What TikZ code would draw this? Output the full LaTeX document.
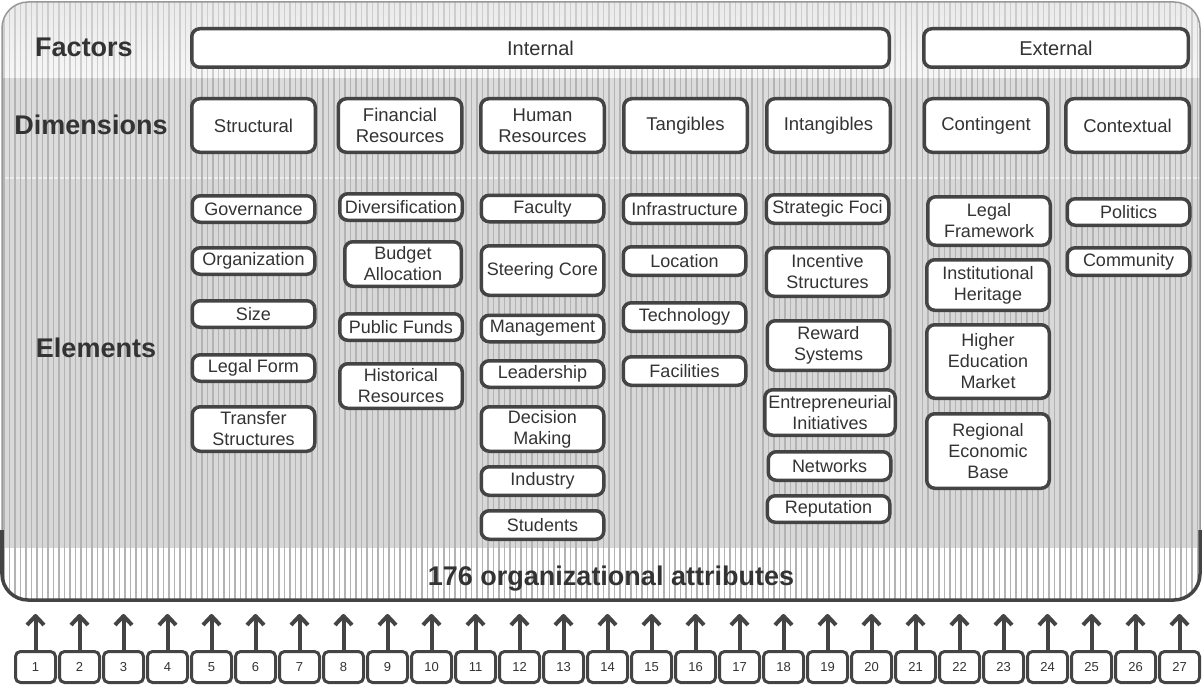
\documentclass[tikz,border=0pt]{standalone}
\usepackage{fontspec}
\setmainfont{Liberation Sans}
\usetikzlibrary{arrows.meta, positioning}

\definecolor{linegray}{HTML}{444444}
\definecolor{textgray}{HTML}{333333}
\definecolor{topgray}{HTML}{EAEAEA}
\definecolor{dimgray}{HTML}{DCDCDC}
\definecolor{bandgray}{HTML}{D8D8D8}
\definecolor{stripegray}{HTML}{B3B3B3}
\definecolor{topstripe}{HTML}{CDCDCD}

\begin{document}
\begin{tikzpicture}[x=1pt, y=-1pt,
    every node/.style={text=textgray},
    box/.style={draw=linegray, line width=3.5pt, rounded corners=8pt, fill=white, align=center, inner sep=2pt},
    elem/.style={box, minimum width=122.5pt, minimum height=26.5pt, font=\fontsize{18}{21}\selectfont},
    dimbox/.style={box, minimum width=123.5pt, minimum height=53.5pt, font=\fontsize{18.5}{21.5}\selectfont},
    factbox/.style={box, minimum height=38.5pt, font=\fontsize{20}{24}\selectfont},
    numbox/.style={draw=linegray, line width=3pt, rounded corners=5pt, fill=white, minimum width=40pt, minimum height=31pt, inner sep=0pt, font=\fontsize{13}{15}\selectfont},
    rowtitle/.style={font=\fontsize{27}{30}\selectfont\bfseries}]
    \useasboundingbox (0,0) rectangle (1203,685);

    % striped background
    \begin{scope}
        \clip[rounded corners=26pt] (2,2) rectangle (1200,600);
        \shade[top color=topgray, bottom color=white!60!topgray] (0,0) rectangle (1203,78);
        \fill[dimgray] (0,78) rectangle (1203,178);
        \fill[bandgray] (0,178) rectangle (1203,548);
        \fill[white] (0,548) rectangle (1203,600);
        \draw[white!55!bandgray, line width=2pt] (0,178) -- (1203,178);
        \foreach \x in {4,9.5,...,1200} {
            \draw[topstripe, line width=1.8pt] (\x,0) -- (\x,78);
            \draw[stripegray, line width=1.8pt] (\x,78) -- (\x,600);
        }
    \end{scope}
    \draw[linegray!55, line width=1.5pt, rounded corners=26pt] (2,2) rectangle (1200,600);
    \draw[linegray, line width=3.5pt, rounded corners=26pt] (2,530) -- (2,600) -- (1200,600) -- (1200,530);

    % row titles
    \node[rowtitle] (factors) at (84,47) {Factors};
    \node[rowtitle] (dimensions) at (91,125) {Dimensions};
    \node[rowtitle] (elements) at (96,348) {Elements};
    \node[rowtitle] (attributes) at (611,579) {176 organizational attributes};

    % factors
    \node[factbox, minimum width=697.5pt] (internal) at (540.5,48) {Internal};
    \node[factbox, minimum width=264.5pt] (external) at (1056,48) {External};

    % dimensions
    \node[dimbox] (structural) at (253.5,125.5) {Structural};
    \node[dimbox] (financial) at (400,125.5) {Financial\\Resources};
    \node[dimbox] (human) at (542.5,125.5) {Human\\Resources};
    \node[dimbox] (tangibles) at (685.5,125.5) {Tangibles};
    \node[dimbox] (intangibles) at (828.5,125.5) {Intangibles};
    \node[dimbox] (contingent) at (986,125.5) {Contingent};
    \node[dimbox] (contextual) at (1127.5,125.5) {Contextual};

    % elements: structural
    \node[elem] (governance) at (253.5,209) {Governance};
    \node[elem] (organization) at (253.5,261) {Organization};
    \node[elem] (size) at (253.5,314) {Size};
    \node[elem] (legalform) at (253.5,368) {Legal Form};
    \node[elem, minimum height=44.5pt] (transfer) at (253.5,429) {Transfer\\Structures};

    % elements: financial resources
    \node[elem] (diversification) at (401,207) {Diversification};
    \node[elem, minimum width=116.5pt, minimum height=44.5pt] (budget) at (403,264) {Budget\\Allocation};
    \node[elem] (publicfunds) at (401,327) {Public Funds};
    \node[elem, minimum height=44.5pt] (historical) at (401,386) {Historical\\Resources};

    % elements: human resources
    \node[elem] (faculty) at (542.5,208.5) {Faculty};
    \node[elem, minimum height=49.5pt] (steering) at (542.5,270.5) {Steering Core};
    \node[elem] (management) at (542.5,328.5) {Management};
    \node[elem] (leadership) at (542.5,374) {Leadership};
    \node[elem, minimum height=44.5pt] (decision) at (542.5,429) {Decision\\Making};
    \node[elem, minimum height=28.5pt] (industry) at (542.5,481) {Industry};
    \node[elem, minimum height=28.5pt] (students) at (542.5,525) {Students};

    % elements: tangibles
    \node[elem, minimum height=28.5pt] (infrastructure) at (684.5,209) {Infrastructure};
    \node[elem, minimum height=28.5pt] (location) at (684.5,261) {Location};
    \node[elem, minimum height=28.5pt] (technology) at (684.5,317) {Technology};
    \node[elem, minimum height=28.5pt] (facilities) at (684.5,371) {Facilities};

    % elements: intangibles
    \node[elem, minimum height=28.5pt] (strategic) at (827.5,209) {Strategic Foci};
    \node[elem, minimum height=48.5pt] (incentive) at (827.5,272) {Incentive\\Structures};
    \node[elem, minimum height=49.5pt] (reward) at (828.5,345.5) {Reward\\Systems};
    \node[elem, minimum width=130.5pt, minimum height=45.5pt] (entrepreneurial) at (830,412.5) {Entrepreneurial\\Initiatives};
    \node[elem, minimum height=28.5pt] (networks) at (829.5,466) {Networks};
    \node[elem] (reputation) at (828.5,509) {Reputation};

    % elements: contingent
    \node[elem, minimum height=48.5pt] (legalframework) at (989,221) {Legal\\Framework};
    \node[elem, minimum height=50.5pt] (heritage) at (988,285) {Institutional\\Heritage};
    \node[elem, minimum height=73.5pt] (market) at (988,361.5) {Higher\\Education\\Market};
    \node[elem, minimum height=74.5pt] (regional) at (988,451) {Regional\\Economic\\Base};

    % elements: contextual
    \node[elem] (politics) at (1128.5,212) {Politics};
    \node[elem, minimum height=27.5pt] (community) at (1128.5,261.5) {Community};

    % attribute sources
    \foreach \i in {1,...,27} {
        \node[numbox] (n\i) at ({35.5+44*(\i-1)},667) {\i};
        \coordinate (t\i) at ({35.5+44*(\i-1)},614);
        \draw[linegray, line width=4pt, -{Straight Barb[length=9pt, width=17pt, line join=round]}] (n\i.north) -- (t\i);
    }
\end{tikzpicture}
\end{document}
